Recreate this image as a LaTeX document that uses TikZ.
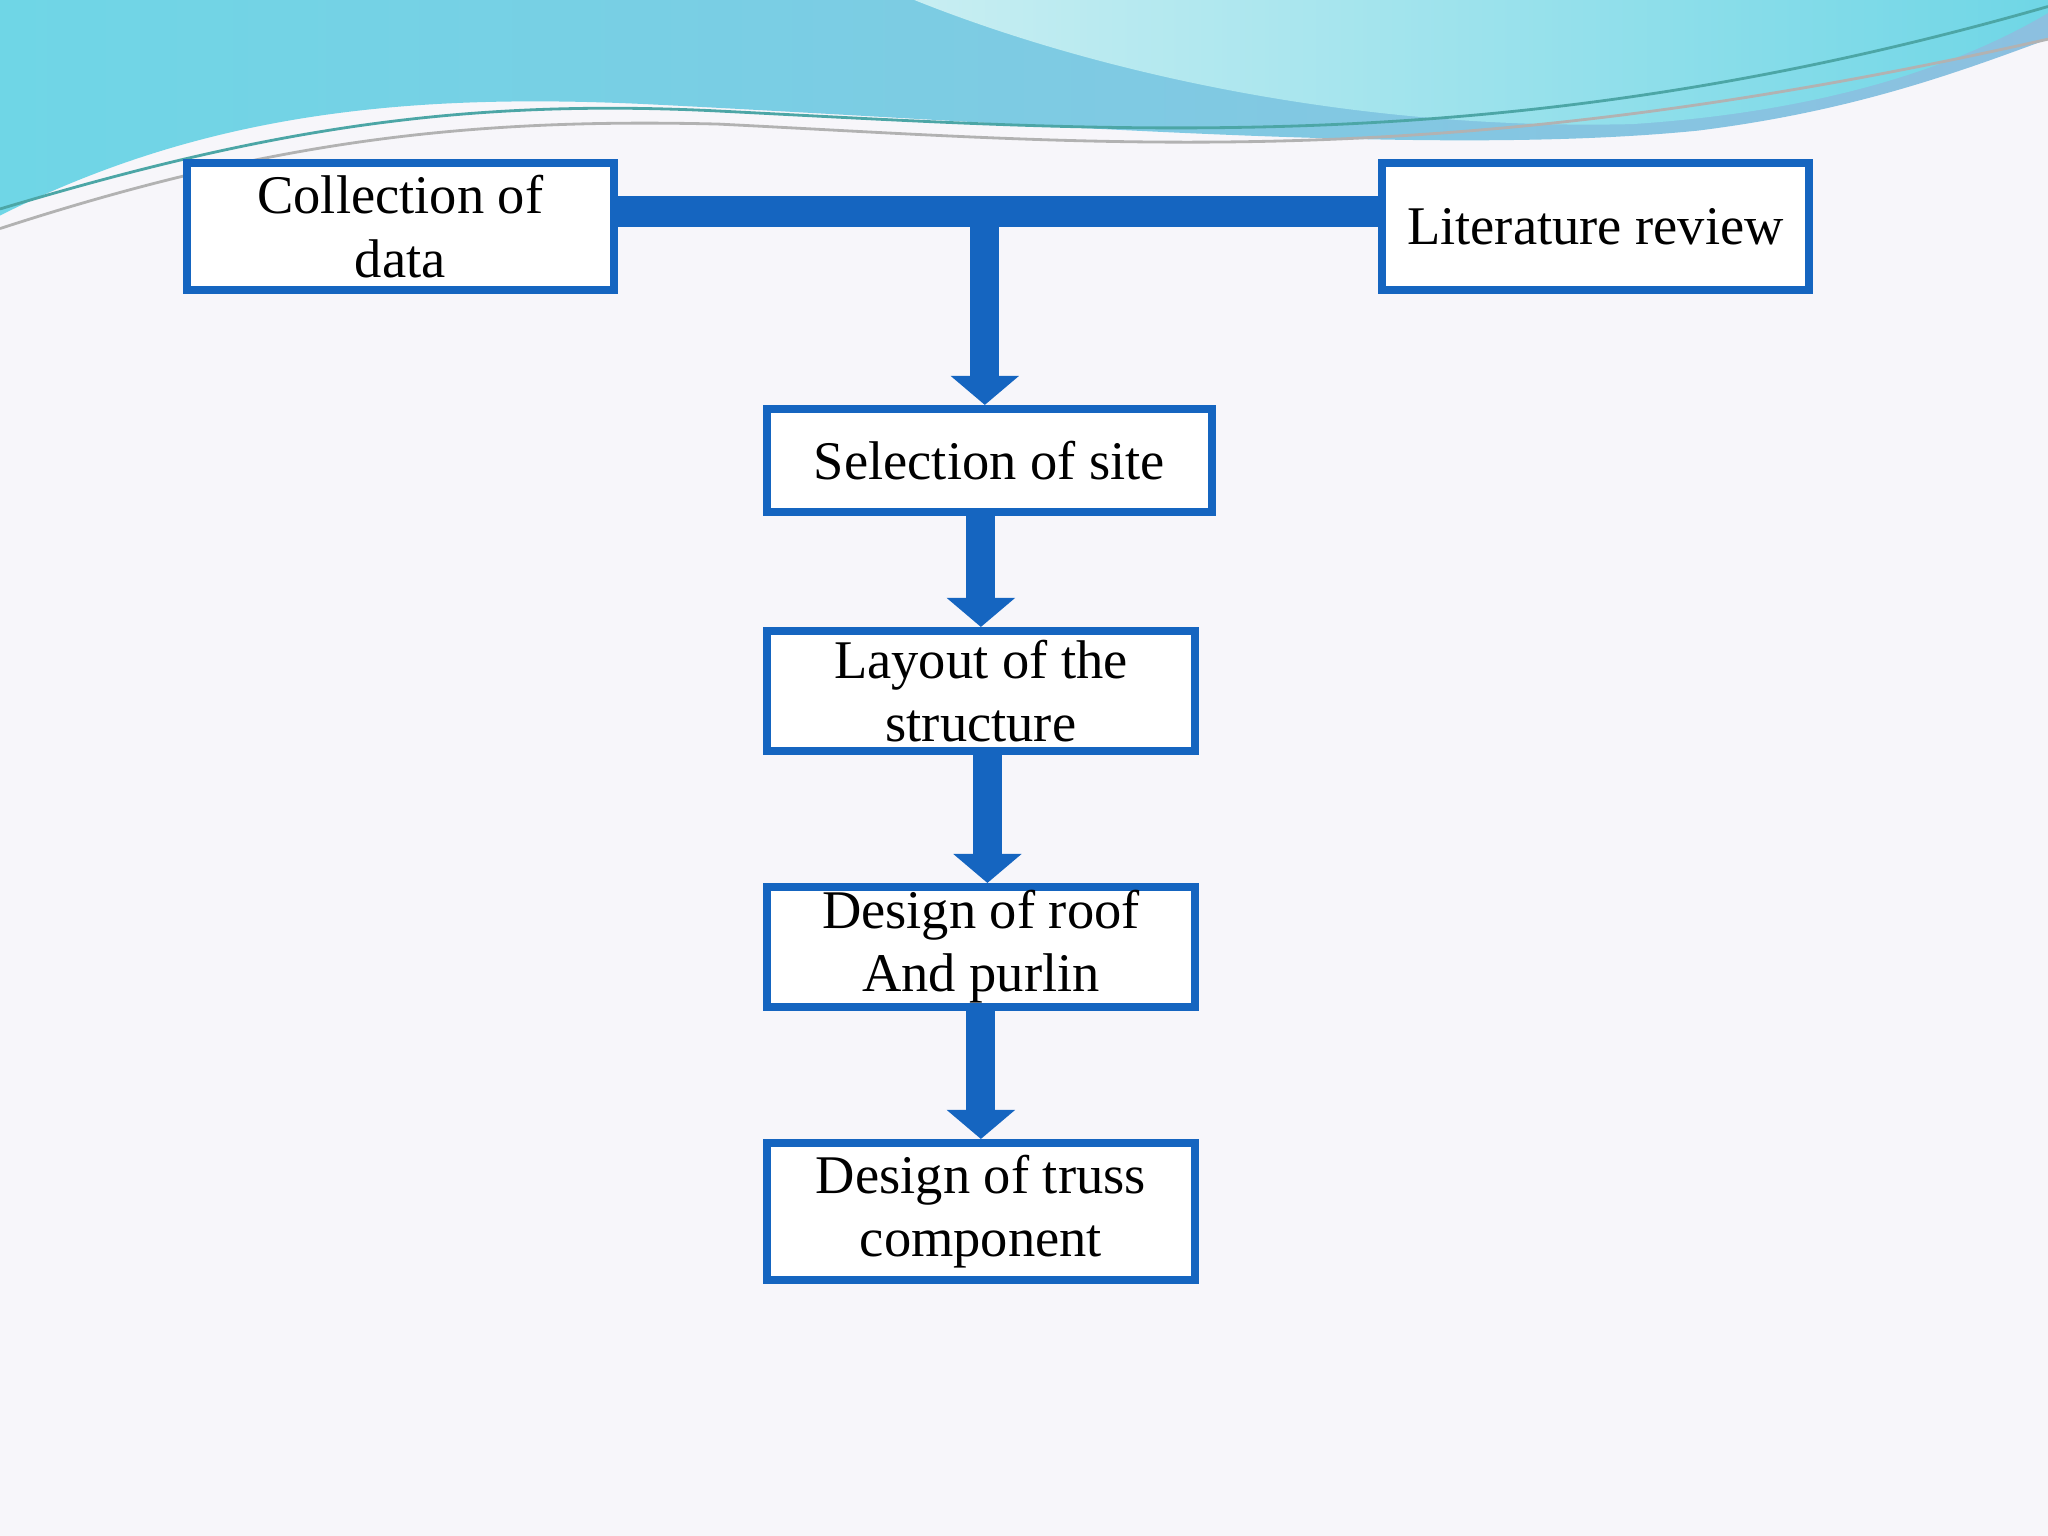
\documentclass[tikz,border=0pt]{standalone}
\usepackage{fontspec}
\setmainfont{Liberation Serif}
\usetikzlibrary{arrows.meta}
\definecolor{bx}{HTML}{1565C0}
\definecolor{bg}{HTML}{F7F6FA}
\definecolor{wl}{HTML}{6FD6E6}
\definecolor{wr}{HTML}{8CC0E0}
\definecolor{wh}{HTML}{C8EEF2}
\begin{document}
\begin{tikzpicture}[x=0.013061cm,y=-0.013061cm,
  box/.style={draw=bx,line width=2.2pt,fill=white,align=center,font=\fontsize{15.5}{18}\selectfont,inner sep=0pt},
  fat/.style={draw=bx,line width=0.29cm,-{Triangle[width=0pt 2.3,length=0pt 1.0]}},
  bar/.style={draw=bx,line width=0.31cm}]
\useasboundingbox (0,0) rectangle (1568,1176);
\fill[bg] (0,0) rectangle (1568,1176);
% top wave
\shade[left color=wl,right color=wr] (0,0) -- (0,165) .. controls (150,90) and (300,70) .. (500,80) .. controls (800,95) and (1100,120) .. (1300,100) .. controls (1420,85) and (1500,55) .. (1568,30) -- (1568,0) -- cycle;
\shade[left color=wh,right color=wl] (700,0) .. controls (850,60) and (1050,100) .. (1250,95) .. controls (1400,85) and (1500,50) .. (1568,10) -- (1568,0) -- cycle;
\fill[bg] (0,175) .. controls (150,100) and (300,85) .. (500,95) .. controls (800,110) and (1100,125) .. (1300,110) .. controls (1420,100) and (1500,75) .. (1568,55) -- (1568,180) -- (0,180) -- cycle;
\draw[teal!70,line width=0.8pt] (0,160) .. controls (200,100) and (350,75) .. (550,85) .. controls (850,100) and (1150,125) .. (1568,5);
\draw[gray!60,line width=0.8pt] (0,175) .. controls (200,110) and (350,90) .. (550,95) .. controls (850,110) and (1100,135) .. (1568,30);
\node[box,minimum width=327*0.013061cm,minimum height=97*0.013061cm] (c) at (306.5,173.5) {Collection of\\data};
\node[box,minimum width=327*0.013061cm,minimum height=97*0.013061cm] (l) at (1221.5,173.5) {Literature review};
\node[box,minimum width=341*0.013061cm,minimum height=79*0.013061cm] (s) at (757.5,352.5) {Selection of site};
\node[box,minimum width=328*0.013061cm,minimum height=92*0.013061cm] (y) at (751,529) {Layout of the\\structure};
\node[box,minimum width=328*0.013061cm,minimum height=92*0.013061cm] (r) at (751,725) {Design of roof\\And purlin};
\node[box,minimum width=328*0.013061cm,minimum height=105*0.013061cm] (t) at (751,927.5) {Design of truss\\component};
\coordinate (j) at (754,172);
\draw[bar] (c.east|-0,162) -- (l.west|-0,162);
\draw[fat] (j) -- (j|-s.north);
\draw[fat] (s.south-|751,0) -- (y.north);
\draw[fat] (y.south-|756,0) -- (r.north-|756,0);
\draw[fat] (r.south) -- (t.north);
\end{tikzpicture}
\end{document}
